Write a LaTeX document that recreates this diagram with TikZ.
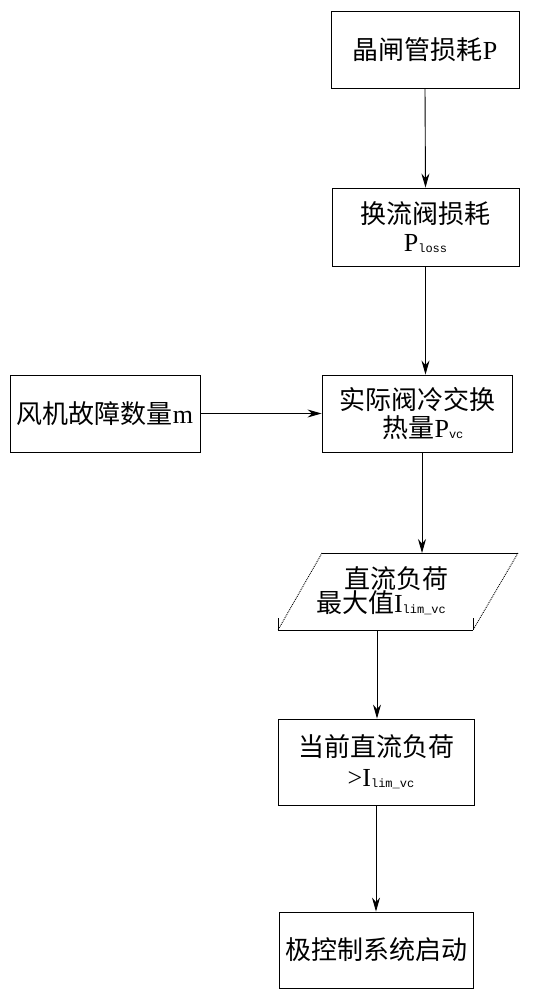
\documentclass[tikz,border=0pt]{standalone}
\usepackage{fontspec}
\setmainfont{Liberation Serif}
\setmonofont{Liberation Mono}
\newfontfamily\cjk{Noto Sans CJK SC}
\usetikzlibrary{arrows.meta}
\tikzset{
  box/.style={draw, line width=0.9pt, rectangle, inner sep=0pt, font=\cjk\fontsize{26}{32}\selectfont, align=center},
  arr/.style={line width=0.9pt, -{Stealth[length=14pt,width=8pt]}},
}
\newcommand{\sbx}[1]{\raisebox{-1pt}{\ttfamily\fontsize{12}{12}\selectfont #1}}
\begin{document}
\begin{tikzpicture}[x=1pt,y=-1pt]
\useasboundingbox (0,0) rectangle (537,1000);
\node[box, minimum width=188pt, minimum height=77pt] (b1) at (425,49.5) {晶闸管损耗{\rmfamily P}};
\node[box, minimum width=187pt, minimum height=78pt] (b2) at (425.5,227) {换流阀损耗\\[-4pt]{\rmfamily P\sbx{loss}}};
\node[box, minimum width=190pt, minimum height=77pt] (b3) at (105,413.5) {风机故障数量{\rmfamily m}};
\node[box, minimum width=190pt, minimum height=77pt] (b4) at (417,413.5) {实际阀冷交换\\[-4pt]\hspace*{12pt}热量{\rmfamily P\sbx{vc}}};
% parallelogram
\coordinate (pt) at (422,553);
\coordinate (pb) at (377,630);
\draw[line width=0.9pt] (322,553) -- (518,553);
\draw[line width=0.9pt] (278,630) -- (473,630);
\draw[line width=0.9pt, densely dotted] (322,553) -- (278,630);
\draw[line width=0.9pt, densely dotted] (518,553) -- (473,630);
\draw[line width=0.9pt] (278,630) -- (278,618);
\draw[line width=0.9pt] (473,630) -- (473,618);
\node[font=\cjk\fontsize{26}{30}\selectfont, align=left, inner sep=0pt] (pp) at (382,591) {\hspace*{28pt}直流负荷\\[-6pt]最大值{\rmfamily I\sbx{lim\_vc}}};
\node[box, minimum width=196pt, minimum height=86pt] (b5) at (376,762) {当前直流负荷\\[-2pt]\hspace*{10pt}{\rmfamily >I\sbx{lim\_vc}}};
\node[box, minimum width=194pt, minimum height=76pt] (b6) at (376,950) {极控制系统启动};
\draw[arr] (b1.south) -- (b2.north);
\draw[arr] (b2.south) -- (b2.south |- b4.north);
\draw[arr] (b3.east) -- (b4.west);
\draw[arr] (b4.south -| pt) -- (pt);
\draw[arr] (pb) -- (b5.north -| pb);
\draw[arr] (b5.south) -- (b6.north);
\end{tikzpicture}
\end{document}
